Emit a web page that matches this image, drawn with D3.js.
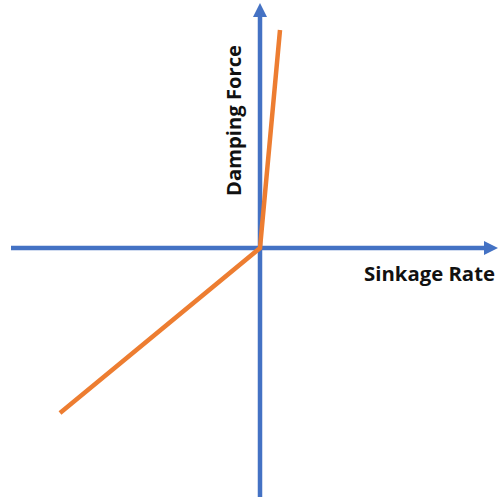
<!DOCTYPE html>
<html><head><meta charset="utf-8">
<script src="https://cdn.jsdelivr.net/npm/d3@7"></script>
<style>html,body{margin:0;padding:0;background:#fff;}svg{display:block;}</style>
</head><body>
<script>
// Data
const sinkageRate = [-1.0, 0.0, 0.1];
const dampingForce = [-0.825, 0.0, 1.09];
const xLabel = "Sinkage Rate";
const yLabel = "Damping Force";

const W = 498, H = 499;
const svg = d3.select("body").append("svg").attr("width", W).attr("height", H);

const x = d3.scaleLinear().domain([-1.245, 1.19]).range([11, 498]);
const y = d3.scaleLinear().domain([-1.245, 1.225]).range([497, 3]);

const blue = "#4472C4", orange = "#ED7D31";
const x0 = x(0), y0 = y(0);

// horizontal axis
const [xa, xb] = x.range();
svg.append("line").attr("x1", xa).attr("x2", xb - 8).attr("y1", y0).attr("y2", y0)
  .attr("stroke", blue).attr("stroke-width", 4.5);
svg.append("path").attr("d", `M${xb},${y0} L${xb - 14},${y0 - 7} L${xb - 14},${y0 + 7} Z`).attr("fill", blue);

// vertical axis
const [yb, yt] = y.range();
svg.append("line").attr("x1", x0).attr("x2", x0).attr("y1", yb).attr("y2", yt + 10)
  .attr("stroke", blue).attr("stroke-width", 4.5);
svg.append("path").attr("d", `M${x0},${yt} L${x0 - 7},${yt + 14} L${x0 + 7},${yt + 14} Z`).attr("fill", blue);

// data line
const pts = sinkageRate.map((v, i) => [v, dampingForce[i]]);
svg.append("path").datum(pts)
  .attr("d", d3.line().x(d => x(d[0])).y(d => y(d[1])))
  .attr("fill", "none").attr("stroke", orange).attr("stroke-width", 4.5)
  .attr("stroke-linejoin", "miter");

// labels
svg.append("text").attr("x", 364).attr("y", 281)
  .attr("font-family", "'Open Sans', 'Liberation Sans', sans-serif").attr("font-weight", "bold")
  .attr("font-size", 19.5).attr("fill", "#111")
  .attr("textLength", 131).attr("lengthAdjust", "spacingAndGlyphs").text(xLabel);

svg.append("text").attr("transform", "translate(241,196) rotate(-90)")
  .attr("font-family", "'Open Sans', 'Liberation Sans', sans-serif").attr("font-weight", "bold")
  .attr("font-size", 19.5).attr("fill", "#111")
  .attr("textLength", 151).attr("lengthAdjust", "spacingAndGlyphs").text(yLabel);
</script>
</body></html>
